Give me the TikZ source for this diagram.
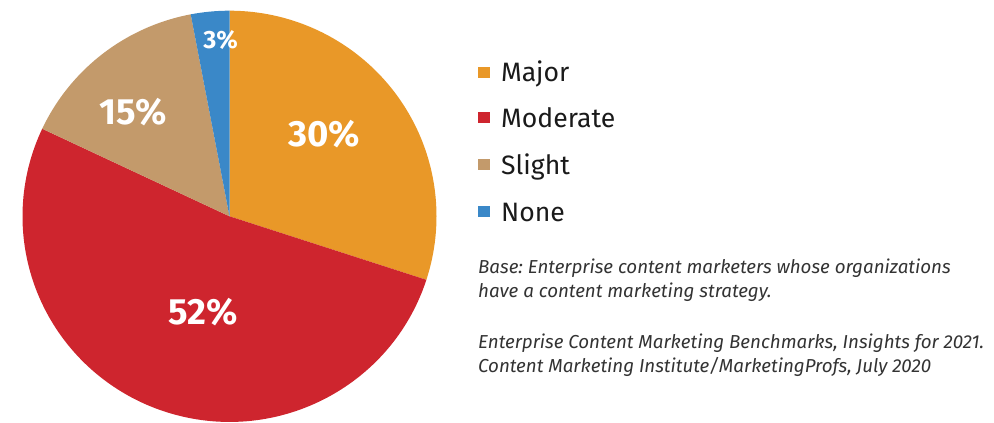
\documentclass[tikz,border=0pt]{standalone}
\usepackage{fontspec}
\setmainfont{Fira Sans}
\frenchspacing
\definecolor{cmajor}{HTML}{E99828}
\definecolor{cmoderate}{HTML}{CE252E}
\definecolor{cslight}{HTML}{C39A6B}
\definecolor{cnone}{HTML}{3A88C8}
\definecolor{ctext}{HTML}{1A1A1A}
\definecolor{cnote}{HTML}{333333}
\tikzset{
  slicelabel/.style={text=white, font=\bfseries\fontsize{36.5}{39}\selectfont, inner sep=0pt, anchor=center},
  legendtext/.style={text=ctext, font=\fontsize{26.6}{30}\selectfont, inner sep=0pt, anchor=base west},
  legendbox/.style={minimum width=12pt, minimum height=11pt, inner sep=0pt, anchor=center},
  notetext/.style={text=cnote, font=\itshape\fontsize{18.75}{22}\selectfont, inner sep=0pt, anchor=base west},
}
\begin{document}
\begin{tikzpicture}[x=1pt,y=1pt]
\useasboundingbox (0,0) rectangle (994,423);
\coordinate (c) at (229.5,206.7);
% slices
\fill[cmajor] (c) -- ++(90:207 and 205.6) arc[start angle=90, end angle=-18, x radius=207, y radius=205.6] -- cycle;
\fill[cmoderate] (c) -- ++(-18:207 and 205.6) arc[start angle=-18, end angle=-205.2, x radius=207, y radius=205.6] -- cycle;
\fill[cslight] (c) -- ++(-205.2:207 and 205.6) arc[start angle=-205.2, end angle=-259.2, x radius=207, y radius=205.6] -- cycle;
\fill[cnone] (c) -- ++(-259.2:207 and 205.6) arc[start angle=-259.2, end angle=-270, x radius=207, y radius=205.6] -- cycle;
% slice labels
\node[slicelabel] (l30) at (324,289) {30\%};
\node[slicelabel] (l52) at (203,111) {52\%};
\node[slicelabel] (l15) at (133.5,310.5) {15\%};
\node[slicelabel, font=\bfseries\fontsize{25}{27}\selectfont] (l3) at (220.5,383.3) {3\%};
% legend
\node[legendbox, fill=cmajor] (b1) at (484,350.5) {};
\node[legendbox, fill=cmoderate] (b2) at (484,305) {};
\node[legendbox, fill=cslight] (b3) at (484,258) {};
\node[legendbox, fill=cnone] (b4) at (484,211.5) {};
\node[legendtext] (t1) at (501,341) {Major};
\node[legendtext] (t2) at (501,295.5) {Moderate};
\node[legendtext] (t3) at (501,248.5) {Slight};
\node[legendtext] (t4) at (501,201.5) {None};
% notes
\node[notetext] (n1) at (478,149) {Base: Enterprise content marketers whose organizations};
\node[notetext] (n2) at (478,125.5) {have a content marketing strategy.};
\node[notetext] (n3) at (478,74) {Enterprise Content Marketing Benchmarks, Insights for 2021.};
\node[notetext] (n4) at (478,50.5) {Content Marketing Institute/MarketingProfs, July 2020};
\end{tikzpicture}
\end{document}
